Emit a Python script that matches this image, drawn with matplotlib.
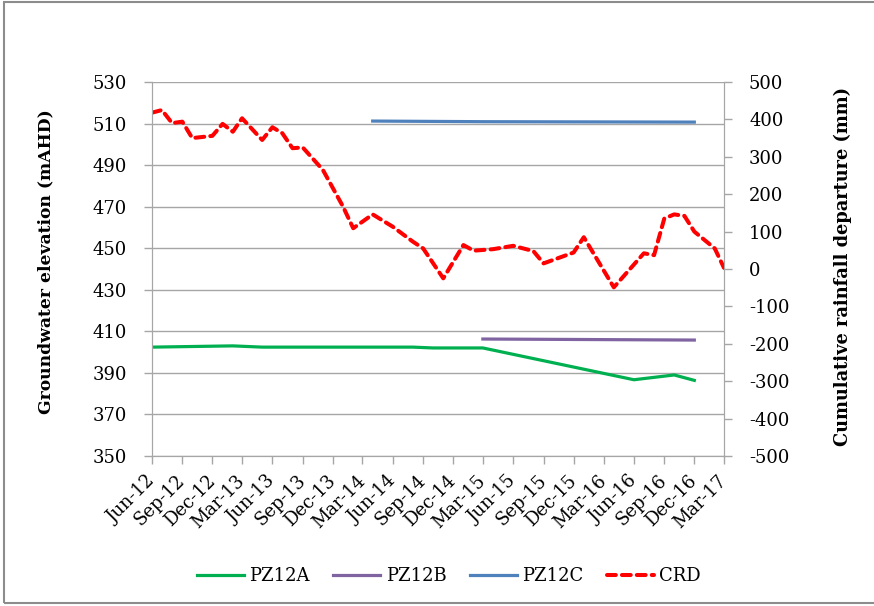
import matplotlib
matplotlib.use("Agg")
import matplotlib.pyplot as plt
import matplotlib.dates as mdates
import matplotlib.transforms as mtransforms
from matplotlib.patches import Rectangle
import numpy as np

# groundwater elevation (mAHD), left axis
pz12a_dates = ["2012-06", "2013-02", "2013-05", "2014-08", "2014-10", "2015-03",
               "2016-06", "2016-10", "2016-12"]
pz12a_vals = [402.4, 403.0, 402.4, 402.4, 402.0, 402.0, 386.7, 389.0, 386.4]

pz12b_dates = ["2015-03", "2016-12"]
pz12b_vals = [406.3, 405.8]

pz12c_dates = ["2014-04", "2015-03", "2016-12"]
pz12c_vals = [511.2, 510.9, 510.7]

# cumulative rainfall departure (mm), right axis
crd_dates = ["2012-06", "2012-07", "2012-08", "2012-09", "2012-10", "2012-12",
             "2013-01", "2013-02", "2013-03", "2013-05", "2013-06", "2013-07",
             "2013-08", "2013-09", "2013-11", "2014-01", "2014-02", "2014-04",
             "2014-06", "2014-08", "2014-09", "2014-11", "2015-01", "2015-02",
             "2015-04", "2015-06", "2015-08", "2015-09", "2015-12", "2016-01",
             "2016-04", "2016-07", "2016-08", "2016-09", "2016-10", "2016-11",
             "2016-12", "2017-02", "2017-03"]
crd_vals = [418, 425, 390, 394, 350, 356, 388, 367, 403, 345, 379, 363,
            323, 325, 265, 167, 109, 146, 113, 73, 55, -25, 64, 49,
            53, 62, 48, 15, 44, 85, -49, 42, 37, 135, 146, 142,
            100, 55, 3]

left_ticks = list(range(350, 531, 20))
right_ticks = list(range(-500, 501, 100))
tick_months = ["2012-06", "2012-09", "2012-12", "2013-03", "2013-06", "2013-09",
               "2013-12", "2014-03", "2014-06", "2014-09", "2014-12", "2015-03",
               "2015-06", "2015-09", "2015-12", "2016-03", "2016-06", "2016-09",
               "2016-12", "2017-03"]


def to_dates(lst):
    return np.array([np.datetime64(d + "-01") for d in lst]).astype("datetime64[D]").astype(object)


plt.rcParams["font.family"] = ["DejaVu Serif"]
plt.rcParams["axes.unicode_minus"] = False
grid_c = "#A6A6A6"

fig = plt.figure(figsize=(8.74, 6.06), dpi=100)
ax = fig.add_axes([152 / 874, 1 - 456 / 606, (724 - 152) / 874, (456 - 82) / 606])
ax2 = ax.twinx()

ax.plot(to_dates(pz12a_dates), pz12a_vals, color="#00B050", lw=2.3, label="PZ12A")
ax.plot(to_dates(pz12b_dates), pz12b_vals, color="#8064A2", lw=2.3, label="PZ12B")
ax.plot(to_dates(pz12c_dates), pz12c_vals, color="#4F81BD", lw=2.3, label="PZ12C")
ax2.plot(to_dates(crd_dates), crd_vals, color="#FF0000", lw=2.9, ls=(0, (2.2, 1.5)),
         dash_capstyle="round", label="CRD")

ax.set_ylim(350, 530)
ax.set_yticks(left_ticks)
ax2.set_ylim(-500, 500)
ax2.set_yticks(right_ticks)

xt = to_dates(tick_months)
ax.set_xlim(xt[0], xt[-1])
ax.set_xticks(xt)
ax.xaxis.set_major_formatter(mdates.DateFormatter("%b-%y"))

ax.grid(axis="y", color=grid_c, lw=1)
ax.set_axisbelow(True)
for a in (ax, ax2):
    for s in a.spines.values():
        s.set_color(grid_c)
    a.spines["top"].set_visible(False)
    a.tick_params(colors=grid_c, length=6, width=1, labelsize=13, labelcolor="black")

offset = mtransforms.ScaledTranslation(8 / 100, 0, fig.dpi_scale_trans)
for lbl in ax.get_xticklabels():
    lbl.set_rotation(45)
    lbl.set_ha("right")
    lbl.set_va("center")
    lbl.set_rotation_mode("anchor")
    lbl.set_transform(lbl.get_transform() + offset)
ax.tick_params(axis="x", pad=10)
ax.tick_params(axis="y", pad=12)
ax2.tick_params(axis="y", pad=12)

ax.set_ylabel("Groundwater elevation (mAHD)", fontsize=12.3, fontweight="bold",
              ha="center", va="center")
ax2.set_ylabel("Cumulative rainfall departure (mm)", fontsize=12.8, fontweight="bold",
               ha="center", va="center")
ax.yaxis.set_label_coords(46 / 874, 1 - 262 / 606, transform=fig.transFigure)
ax2.yaxis.set_label_coords(843 / 874, 1 - 266 / 606, transform=fig.transFigure)

h1, l1 = ax.get_legend_handles_labels()
h2, l2 = ax2.get_legend_handles_labels()
fig.legend(h1 + h2, l1 + l2, loc="center", bbox_to_anchor=(449 / 874, 1 - 576 / 606),
           ncol=4, frameon=False, fontsize=13, handlelength=2.6, columnspacing=1.3,
           handletextpad=0.3)

fig.patches.append(Rectangle((4 / 874, 3 / 606), 1.0, 601 / 606, transform=fig.transFigure,
                             fill=False, edgecolor="#8C8C8C", lw=1.5))

fig.savefig("out.png", dpi=100)
